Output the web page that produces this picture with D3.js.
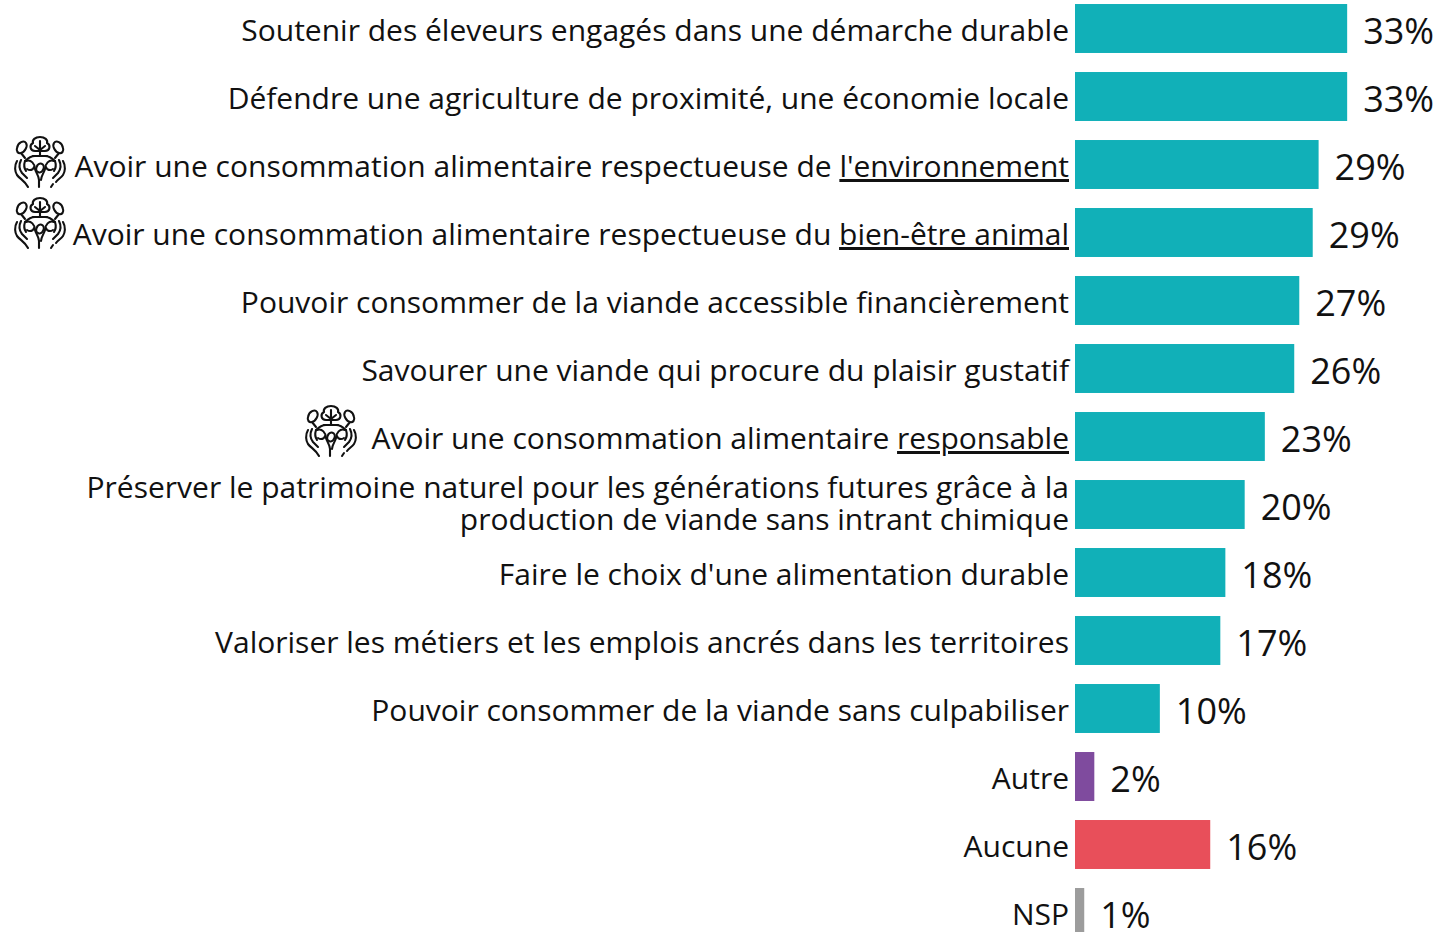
<!DOCTYPE html>
<html lang="fr">

<head>
    <meta charset="UTF-8">
    <title>Motivations</title>
    <script src="https://d3js.org/d3.v7.min.js"></script>
    <style>
        html, body { margin: 0; padding: 0; background: #fff; overflow: hidden; }
        svg { display: block; }
        text { font-family: "Open Sans", "Noto Sans", sans-serif; fill: #111; }
    </style>
</head>

<body>
    <svg id="chart" width="1437" height="932"></svg>

    <script>
        // each label is a list of lines, each line a list of [text, underlined] runs
        const categories = ["durable", "local", "env", "animal", "prix", "plaisir", "resp", "patrimoine", "alim", "metiers", "culpa", "autre", "aucune", "nsp"];
        const labels = [
            [[["Soutenir des éleveurs engagés dans une démarche durable", false]]],
            [[["Défendre une agriculture de proximité, une économie locale", false]]],
            [[["Avoir une consommation alimentaire respectueuse de ", false], ["l'environnement", true]]],
            [[["Avoir une consommation alimentaire respectueuse du ", false], ["bien-être animal", true]]],
            [[["Pouvoir consommer de la viande accessible financièrement", false]]],
            [[["Savourer une viande qui procure du plaisir gustatif", false]]],
            [[["Avoir une consommation alimentaire ", false], ["responsable", true]]],
            [[["Préserver le patrimoine naturel pour les générations futures grâce à la", false]], [["production de viande sans intrant chimique", false]]],
            [[["Faire le choix d'une alimentation durable", false]]],
            [[["Valoriser les métiers et les emplois ancrés dans les territoires", false]]],
            [[["Pouvoir consommer de la viande sans culpabiliser", false]]],
            [[["Autre", false]]],
            [[["Aucune", false]]],
            [[["NSP", false]]]
        ];
        const values = [32.4, 32.4, 29.0, 28.3, 26.7, 26.1, 22.6, 20.2, 17.9, 17.3, 10.1, 2.3, 16.1, 1.1];
        const valueLabels = ["33%", "33%", "29%", "29%", "27%", "26%", "23%", "20%", "18%", "17%", "10%", "2%", "16%", "1%"];
        const barColors = ["#11b0b8", "#11b0b8", "#11b0b8", "#11b0b8", "#11b0b8", "#11b0b8", "#11b0b8", "#11b0b8", "#11b0b8", "#11b0b8", "#11b0b8", "#7f4b9e", "#e84f5a", "#9c9c9c"];
        const iconRows = ["env", "animal", "resp"];
        const iconPositions = [[14, 136], [14, 197], [305, 405]];

        const svg = d3.select("#chart");

        const x = d3.scaleLinear().domain([0, 100]).range([1075, 1915]);
        const y = d3.scaleBand().domain(categories).range([-5.5, 946.5]).paddingInner(0.28).paddingOuter(0.14);

        // Icon: hands round a globe with three trees
        const defs = svg.append("defs");
        const icon = defs.append("g").attr("id", "eco-icon")
            .attr("fill", "none").attr("stroke", "#111").attr("stroke-width", 2.1)
            .attr("stroke-linecap", "round").attr("stroke-linejoin", "round");
        [
            "M26 1 C21 1 18 4 19 7 C15 9 16 15 21 15 L31 15 C36 15 37 9 33 7 C34 4 31 1 26 1 Z",
            "M26 5 L26 20 M21 10 L26 14 M31 10 L26 14 M19 20 L33 20",
            "M3 12 C4 6 10 4 12 7 C14 10 11 16 7 17 C4 18 2 15 3 12 Z M7 17 L11 22",
            "M49 12 C48 6 42 4 40 7 C38 10 41 16 45 17 C48 18 50 15 49 12 Z M45 17 L41 22",
            "M11 25 C14 22 18 20 21 20 M31 20 C34 20 38 22 41 25",
            "M3 25 C0 30 1 36 3 39 C6 43 11 45 14 51",
            "M7 24 C5 28 5 33 8 37 L13 42 M11 25 C10 28 10 32 12 35",
            "M12 25 C17 23 21 28 21 33 C22 37 25 40 25 44 L25 51",
            "M13 33 C16 35 19 34 20 31",
            "M49 25 C52 30 51 36 49 39 C47 42 44 43 42 46 M39 48 L37 51",
            "M45 24 C47 28 47 33 44 37 L39 42 M41 25 C42 28 42 32 40 35",
            "M40 25 C35 23 31 28 31 33 C30 37 27 40 27 44",
            "M39 33 C36 35 33 34 32 31"
        ].forEach(d => icon.append("path").attr("d", d));
        icon.append("ellipse").attr("cx", 26).attr("cy", 32).attr("rx", 3.6).attr("ry", 4.6)
            .attr("transform", "rotate(20 26 32)");

        // Bars
        svg.selectAll("rect.bar")
            .data(categories)
            .join("rect")
            .attr("class", "bar")
            .attr("x", x(0))
            .attr("y", d => y(d))
            .attr("width", (d, i) => x(values[i]) - x(0))
            .attr("height", y.bandwidth())
            .attr("fill", (d, i) => barColors[i]);

        // Category labels, right aligned on the axis
        const labelSize = 30;
        const lineGap = 32;
        categories.forEach((c, i) => {
            const lines = labels[i];
            const mid = y(c) + y.bandwidth() / 2;
            lines.forEach((runs, k) => {
                const t = svg.append("text")
                    .attr("x", 1069)
                    .attr("y", lines.length > 1
                        ? mid + 9 + (k - (lines.length - 1) / 2) * lineGap
                        : mid + 12.5)
                    .attr("text-anchor", "end")
                    .attr("font-size", labelSize);
                runs.forEach(r => {
                    t.append("tspan")
                        .attr("text-decoration", r[1] ? "underline" : null)
                        .text(r[0]);
                });
            });
        });

        // Value labels
        svg.selectAll("text.value")
            .data(categories)
            .join("text")
            .attr("class", "value")
            .attr("x", (d, i) => x(values[i]) + 16)
            .attr("y", d => y(d) + y.bandwidth() / 2 + 15)
            .attr("font-size", 36)
            .text((d, i) => valueLabels[i]);

        iconRows.forEach((r, i) => {
            svg.append("use")
                .attr("href", "#eco-icon")
                .attr("x", iconPositions[i][0])
                .attr("y", iconPositions[i][1]);
        });
    </script>
</body>

</html>
